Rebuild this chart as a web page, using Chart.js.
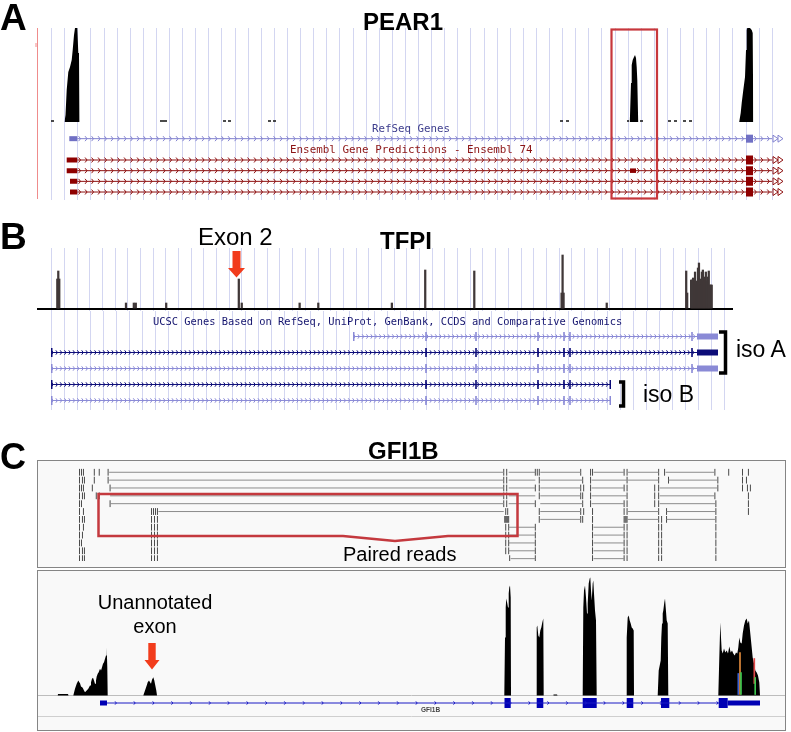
<!DOCTYPE html>
<html>
<head>
<meta charset="utf-8">
<script src="https://cdn.jsdelivr.net/npm/chart.js@4/dist/chart.umd.min.js"></script>
<style>
  html, body { margin: 0; padding: 0; background: #fff; }
  #page { position: relative; width: 791px; height: 732px; overflow: hidden; font-family: "Liberation Sans", Arial, sans-serif; }
  canvas { position: absolute; }
  .t { position: absolute; line-height: 1; white-space: nowrap; color: #000; }
  .b { font-weight: bold; }
  .mono { font-family: "DejaVu Sans Mono", monospace; }
  .frame { position: absolute; box-sizing: border-box; border: 1.5px solid #858585; background: #f9f9f9; }
</style>
</head>
<body>
<div id="page">
  <div class="frame" style="left:37px;top:460px;width:749px;height:108px"></div>
  <div class="frame" style="left:37px;top:569.5px;width:749px;height:161.5px"></div>

  <canvas id="pearCov" width="749" height="94" style="left:37px;top:28px"></canvas>
  <canvas id="pearGenes" width="749" height="78" style="left:37px;top:122px"></canvas>
  <canvas id="tfpiCov" width="696" height="63" style="left:37px;top:248px"></canvas>
  <canvas id="tfpiGenes" width="696" height="99" style="left:37px;top:311px"></canvas>
  <canvas id="gfiReads" width="747" height="105" style="left:38px;top:461px"></canvas>
  <canvas id="gfiCov" width="747" height="125" style="left:38px;top:572px"></canvas>
  <canvas id="gfiGene" width="747" height="33" style="left:38px;top:697px"></canvas>

  <svg width="791" height="732" style="position:absolute;left:0;top:0">
    <line x1="37.5" y1="28" x2="37.5" y2="199" stroke="#ef8c8c" stroke-width="1"/>
    <line x1="36" y1="43" x2="36" y2="47" stroke="#ef8c8c" stroke-width="1"/>
    <rect x="611.5" y="29.5" width="45.5" height="169" fill="none" stroke="#c7373c" stroke-width="2.2"/>
    <polygon points="232.5,251 240.5,251 240.5,268 245,268 236.5,277.5 228,268 232.5,268" fill="#f23c1c"/>
    <path d="M719,332 H725.5 V373 H719" fill="none" stroke="#000" stroke-width="3.5"/>
    <path d="M619,382 H623.5 V406 H619" fill="none" stroke="#000" stroke-width="3.5"/>
    <polygon points="98.5,494 517.5,494 517.5,536 448,536 395,541 343,536 98.5,536" fill="none" stroke="#c4393e" stroke-width="2.5"/>
    <polygon points="148.3,643 155.7,643 155.7,660 159.5,660 152,669.5 144.5,660 148.3,660" fill="#f23c1c"/>
  </svg>

  <div class="t b" style="left:0;top:-1.5px;font-size:37px">A</div>
  <div class="t b" style="left:363px;top:10px;font-size:24px">PEAR1</div>
  <div class="t mono" style="left:372px;top:123.7px;font-size:10.8px;color:#3c3c8c">RefSeq Genes</div>
  <div class="t mono" style="left:290px;top:144.7px;font-size:10.9px;color:#8c1414">Ensembl Gene Predictions - Ensembl 74</div>

  <div class="t b" style="left:0;top:218px;font-size:37px">B</div>
  <div class="t" style="left:198px;top:225px;font-size:24px">Exon 2</div>
  <div class="t b" style="left:380px;top:229px;font-size:24px">TFPI</div>
  <div class="t mono" style="left:153px;top:315.8px;font-size:10.4px;color:#14146e">UCSC Genes Based on RefSeq, UniProt, GenBank, CCDS and Comparative Genomics</div>
  <div class="t" style="left:736px;top:337.7px;font-size:23px">iso A</div>
  <div class="t" style="left:643px;top:382.7px;font-size:23px">iso B</div>

  <div class="t b" style="left:0;top:438.5px;font-size:36px">C</div>
  <div class="t b" style="left:368px;top:438.6px;font-size:24px">GFI1B</div>
  <div class="t" style="left:343px;top:544.4px;font-size:20px">Paired reads</div>
  <div class="t" style="left:55px;width:200px;text-align:center;top:592.4px;font-size:20px">Unannotated</div>
  <div class="t" style="left:55px;width:200px;text-align:center;top:616px;font-size:20px">exon</div>
  <div class="t b" style="left:421px;top:706.5px;font-size:6.5px;color:#444">GFI1B</div>
</div>

<script>
// ---------- A: PEAR1 (locus positions, coverage depth) ----------
const pearCovPos = [64.5,65.5,66.7,68.3,70,71.7,72.7,74,75,76,77.3,78.3,79,79.4,
  629.8,631,631.7,632.7,634,635,636,636.7,637.3,638.2,
  739.2,740.7,741.7,743.3,745,746,746.7,747.3,750,751.7,752.7,753.3];
const pearCovDepth = [0,7,32,50,55,62,72,87,94,94,94,69,69,0,
  0,39,57,62,65,67,64,55,42,0,
  0,9,19,32,45,72,92,94,94,92,89,0];
const pearLowStart = [51,160,223,228,268,273,560,566,627,640,668,674,683,689];
const pearLowEnd   = [54,167,226,231,271,276,563,569,629,643,671,677,686,692];

const pearSlot  = [1,3,4,5,6];            // RefSeq row, then 4 Ensembl rows
const pearStart = [69.3,66.7,66.7,70,70];  // first exon start
const pearExon1End = 77.3;
const pearLastExon = [746,753];
const pearTxEnd = 772;
const pearAltExon = [630,636];             // extra exon, Ensembl row 2
const pearAltSlot = 4;

// ---------- B: TFPI ----------
const tfpiCovPos = [51,52,53,121,129,131,162,236,239,298,317,392,426,476,565,566,567,611,692,693,
  697,698,699,700,701,702,703,704,705,706,707,708,709,710,711,712,713,714,715,716,717,718];
const tfpiCovDepth = [30,38,30,6,6,6,6,30,6,6,6,6,39,38,16,54,16,6,38,16,
  29,29,31,24,37,28,24,41,46,30,24,37,39,28,32,37,28,32,38,24,24,24];

const tfpiRow     = [0,1,2,3,4];
const tfpiDark    = [false,true,false,true,false];
const tfpiTxStart = [353,51,51,51,51];
const tfpiTxEnd   = [697,697,697,611,611];
const tfpiExonsA  = [426,476,538,564,570,692];
const tfpiExonsB  = [426,476,538,564,570];
const tfpiUtrA    = [697,718];

// ---------- C: GFI1B ----------
const gfiCovPos = [57.5,58,68,68.5,
  73.3,75,76.7,78.3,79.3,80,81,82.7,84,85,86.7,88.3,90,91,92,93,94,95,96,96.7,97.7,98.7,100,101,102,103,104,105,106,106.7,107.3,107.7,
  143.3,145,146.7,147.7,149,150,151,152,153.3,154.3,155.3,156.3,157,
  504.3,505,505.7,506.3,507.3,508,508.7,509.3,510,510.7,511,
  536,536.7,537.3,538.3,539.3,540.3,541.3,542.3,543.3,543.7,
  553,553.5,557,557.5,
  582.7,583.3,584,585,586,587,587.7,588.7,589.7,590.3,591,591.7,592.7,593.3,594,595,596,596.7,
  626,626.7,627.7,628.7,629.7,630.7,631.7,632.7,633.7,634,
  657.7,658.7,659.7,660.7,661.3,662,662.7,663.3,664.3,665,665.7,666.7,667.7,668.3,
  718.3,719.3,720.3,721,721.7,722.7,724,725.3,726.7,728,729.3,730.7,732,733.3,734.7,736,737.3,738.3,739.3,740.3,
  741.7,742.7,744,745.3,746.7,747.7,749,750,751.3,752.7,754,755.3,756.7,758,759.3,760];
const gfiCovDepth = [0,1.5,1.5,0,
  0,6.7,11.7,15,13.3,12.3,9,7.7,5,3.3,5,6.7,10,13.3,16.7,17.7,15,11.7,15,19,21.7,23.3,26.7,25,28.3,31.7,33.3,36.7,40,48.3,28.3,0,
  0,5,10,13.3,15,13.3,11.7,15.7,18.3,15,10,5,0,
  0,58,88,97,92,88,102,108,110,98,0,
  0,68,70,60,58,65,68,73,77,0,
  0,1,1,0,
  0,88,105,110,98,82,92,112,117,118,105,95,112,115,102,85,75,0,
  0,58,78,80,75,72,68,67,65,0,
  0,25,30,35,58,72,82,85,93,97,88,75,72,0,
  0,38,73,58,45,42,47,43,45,42,49,43,45,42,40,43,42,48,58,53,
  52,62,70,75,77,72,75,65,52,38,32,25,23,20,13,0];
const gfiSnpPos   = [738.3,740,741,754.3,755.2];
const gfiSnpLo    = [1,1,1,12,1];
const gfiSnpHi    = [22,43,23,37,18];
const gfiSnpColor = ['#3a5fd0','#e08a3c','#3cc850','#e04848','#3cc850'];

const gfiIntron = [[107,719]];
const gfiExons  = [[504.5,510.7],[536.7,543.3],[582.7,596.7],[626.7,633.3],[661,669.3],[718.7,727.7]];
const gfiUtr    = [[100,107],[727.7,760]];

// paired reads: one list of read-end ticks and one of mate links per row
const readTicks = [
  [75,77,79,90,95,104,505,508,537,539,541,583,593,595,627,630,662,668,719,733,747,753],
  [75,78,80,90,104,505,508,541,585,593,630,662,672,722,747,751],
  [75,77,79,88,106,505,508,537,541,583,586,593,627,630,658,662,722,747,752,755],
  [75,78,80,92,95,505,508,541,583,585,593,630,658,662,719,753],
  [75,77,106,505,508,537,585,593,627,630,658,662,720,753],
  [75,79,148,150,152,154,507,509,541,583,586,595,627,630,662,670,720,753],
  [75,78,80,148,151,154,506,507,508,509,510,541,583,585,595,627,628,629,630,662,665,670,720],
  [75,79,148,151,154,507,510,537,595,627,630,662,665,720],
  [75,78,148,151,154,507,510,537,595,627,630,662,665,720],
  [75,77,148,151,154,507,510,537,595,627,630,662,665,720],
  [75,78,80,148,151,154,507,510,537,595,627,630,662,665,720],
  [75,78,80,148,151,154,511,537,595,627,630,662,665,720]
];
const readLinks = [
  [[105,505],[510,537],[542,583],[596,627],[631,662],[669,719]],
  [[105,505],[510,537],[542,585],[594,630],[631,662],[672,722]],
  [[106,505],[510,537],[542,583],[594,627],[663,722]],
  [[106,505],[510,537],[542,583],[594,630],[663,719]],
  [[106,505],[510,537],[542,585],[594,627],[663,720]],
  [[155,505],[542,583],[631,662],[670,720]],
  [[542,583],[630,662],[670,720]],
  [[510,537],[596,627]],
  [[510,537],[596,627]],
  [[510,537],[596,627]],
  [[510,537],[596,627]],
  [[512,537],[596,627]]
];

// ---------- helpers ----------
const pearGrid = []; for (let v = 51.7; v < 776; v += 13.1) pearGrid.push(v);
const tfpiGrid = []; for (let v = 51.7; v < 731; v += 12.93) tfpiGrid.push(v);

function pts(xs, ys){ return xs.map((x,i)=>({x, y: ys[i]})); }
function segs(pairs, row){
  const d = [];
  pairs.forEach(p => d.push({x:p[0], y:row}, {x:p[1], y:row}, {x:p[1], y:null}));
  return d;
}
function lineDs(data, color, width, chevron){
  return { type:'line', data, borderColor:color, backgroundColor:color, borderWidth:width,
    pointRadius:0, fill:false, spanGaps:false, borderCapStyle:'butt', chevron };
}
function coverageDs(data, color){
  return { type:'line', data, borderWidth:0, borderColor:color, backgroundColor:color,
    fill:'origin', pointRadius:0, tension:0 };
}

// intron chevrons along line segments, placed with the scales' pixels
const chevrons = {
  id: 'chevrons',
  afterDatasetsDraw(chart){
    const ctx = chart.ctx;
    chart.data.datasets.forEach((ds, i) => {
      const c = ds.chevron;
      if (!c) return;
      const p = chart.getDatasetMeta(i).data;
      ctx.save();
      ctx.strokeStyle = ds.borderColor;
      ctx.lineWidth = 1;
      for (let j = 0; j < p.length - 1; j++) {
        const a = p[j], b = p[j+1];
        if (a.skip || b.skip) continue;
        ctx.beginPath();
        for (let x = a.x + c.gap/2; x < b.x - 1; x += c.gap) {
          ctx.moveTo(x - c.w, a.y - c.h); ctx.lineTo(x, a.y); ctx.lineTo(x - c.w, a.y + c.h);
        }
        ctx.stroke();
        if (c.tailAt !== undefined && ds.data[j+1].x === c.tailAt) {
          for (let k = 0; k < 2; k++) {
            const x0 = b.x + 1 + k*5;
            ctx.beginPath();
            ctx.moveTo(x0, a.y - 3.5); ctx.lineTo(x0 + 5, a.y); ctx.lineTo(x0, a.y + 3.5); ctx.closePath();
            ctx.stroke();
          }
        }
      }
      ctx.restore();
    });
  }
};

function xAxis(min, max, grid, color){
  return { type:'linear', min, max, display: !!grid,
    ticks:{display:false}, border:{display:false},
    grid:{color: color || '#d3d6f1', lineWidth:1, drawTicks:false},
    afterBuildTicks: s => { s.ticks = (grid || []).map(v => ({value:v})); } };
}
function yAxis(min, max, reverse, lines, color, width){
  return { type:'linear', min, max, reverse: !!reverse, display: !!lines,
    ticks:{display:false}, border:{display:false},
    grid:{color: color || '#000', lineWidth: width || 1, drawTicks:false},
    afterBuildTicks: s => { s.ticks = (lines || []).map(v => ({value:v})); } };
}
function make(id, datasets, x, y){
  return new Chart(document.getElementById(id), {
    type: 'line',
    data: { datasets },
    options: {
      responsive:false, animation:false, events:[],
      layout:{padding:0},
      plugins:{legend:{display:false}, tooltip:{enabled:false}},
      scales:{x, y}
    },
    plugins:[chevrons]
  });
}

// ---------- A ----------
const pearLow = pearLowStart.map((s,i)=>[s, pearLowEnd[i]]);
make('pearCov', [
  coverageDs(pts(pearCovPos, pearCovDepth), '#000'),
  lineDs(segs(pearLow, 1), '#111', 1.5)
], xAxis(37, 786, pearGrid), yAxis(0, 94));

(function(){
  const refC = '#8282cf', refE = '#7070c4', ensC = '#8e1010', ensE = '#8e0000';
  const chevA = (t)=>({gap:6.5, w:2, h:2.5, tailAt:t});
  const intron = {ref:[], ens:[]}, small = {ref:[], ens:[]}, big = {ref:[], ens:[]};
  pearSlot.forEach((slot, i) => {
    const k = i === 0 ? 'ref' : 'ens';
    const introns = slot === pearAltSlot
      ? [[pearExon1End, pearAltExon[0]], [pearAltExon[1], pearLastExon[0]], [pearLastExon[1], pearTxEnd]]
      : [[pearExon1End, pearLastExon[0]], [pearLastExon[1], pearTxEnd]];
    intron[k].push(...segs(introns, slot));
    small[k].push(...segs([[pearStart[i], pearExon1End]], slot));
    big[k].push(...segs([pearLastExon], slot));
  });
  make('pearGenes', [
    lineDs(intron.ref, refC, 1, chevA(pearTxEnd)),
    lineDs(small.ref, refE, 5),
    lineDs(big.ref, refE, 8),
    lineDs(intron.ens, ensC, 1, chevA(pearTxEnd)),
    lineDs(small.ens, ensE, 5),
    lineDs(big.ens, ensE, 9),
    lineDs(segs([pearAltExon], pearAltSlot), ensE, 4.5)
  ], xAxis(37, 786, pearGrid), yAxis(-0.5623, 6.748, true));
})();

// ---------- B ----------
make('tfpiCov', [
  { type:'bar', data: pts(tfpiCovPos, tfpiCovDepth), backgroundColor:'#403838', barThickness:1.6 }
], xAxis(37, 733, tfpiGrid), yAxis(-2, 61, false, [0], '#000', 2));

(function(){
  const dark = '#0c0c78', light = '#8a8ad6';
  const sets = {dark:{intron:[], exon:[], box:[]}, light:{intron:[], exon:[], box:[]}};
  tfpiRow.forEach((row, i) => {
    const s = sets[tfpiDark[i] ? 'dark' : 'light'];
    const isoA = tfpiTxEnd[i] === tfpiUtrA[0];
    s.intron.push(...segs([[tfpiTxStart[i], tfpiTxEnd[i]]], row));
    const ex = [[tfpiTxStart[i], tfpiTxStart[i] + 1.5]];
    (isoA ? tfpiExonsA : tfpiExonsB).forEach(x => ex.push([x - 0.8, x + 0.8]));
    if (!isoA) ex.push([tfpiTxEnd[i] - 1.5, tfpiTxEnd[i]]);
    s.exon.push(...segs(ex, row));
    if (isoA) s.box.push(...segs([tfpiUtrA], row));
  });
  const chevB = {gap:4.3, w:1.6, h:2.2};
  make('tfpiGenes', [
    lineDs(sets.light.intron, light, 1, chevB),
    lineDs(sets.light.exon, light, 9),
    lineDs(sets.light.box, light, 6),
    lineDs(sets.dark.intron, dark, 1, chevB),
    lineDs(sets.dark.exon, dark, 9),
    lineDs(sets.dark.box, dark, 6)
  ], xAxis(37, 733, tfpiGrid), yAxis(-1.594, 4.594, true));
})();

// ---------- C ----------
(function(){
  const ticks = [], links = [];
  readTicks.forEach((row, r) => row.forEach(x => ticks.push({x, y:r})));
  readLinks.forEach((row, r) => links.push(...segs(row, r)));
  make('gfiReads', [
    lineDs(links, '#8c8c8c', 1),
    { type:'line', data: ticks, showLine:false, pointStyle:'line', pointRotation:90,
      pointRadius:3.4, pointBorderWidth:1, pointBorderColor:'#4a4a4a', borderColor:'#4a4a4a' }
  ], xAxis(38, 785), yAxis(-0.8, 11.3, true));
})();

// mismatch bars listed first so they are drawn above the coverage fill
make('gfiCov', [
  { type:'bar', data: gfiSnpPos.map((x,i)=>({x, y:[gfiSnpLo[i], gfiSnpHi[i]]})),
    backgroundColor: gfiSnpColor, barThickness:1 },
  coverageDs(pts(gfiCovPos, gfiCovDepth), '#000')
], xAxis(38, 785), yAxis(-1.5, 123.5, false, [0], '#bdbdbd', 1));

make('gfiGene', [
  lineDs(segs(gfiIntron, 0), '#1a1ac4', 1, {gap:18.8, w:1.3, h:1.6}),
  lineDs(segs(gfiUtr, 0), '#0000b4', 5),
  lineDs(segs(gfiExons, 0), '#0000b4', 10)
], xAxis(38, 785), yAxis(-0.4286, 1.9286, true, [1], '#cfcfcf', 1));
</script>
</body>
</html>
